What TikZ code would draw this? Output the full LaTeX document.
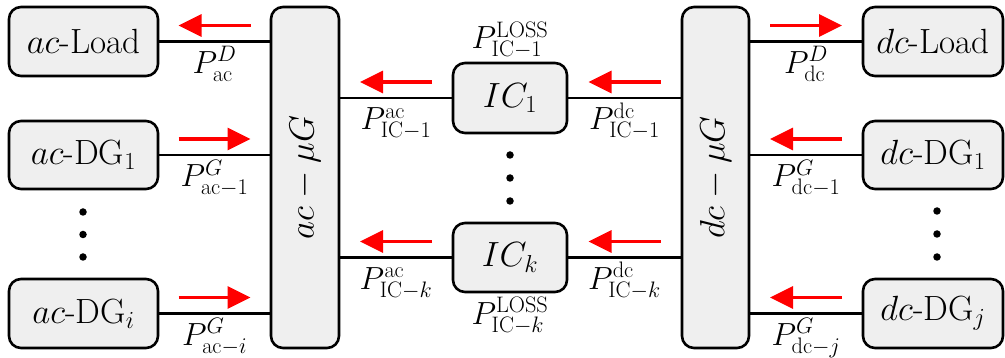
\RequirePackage{fix-cm}
\documentclass[tikz,border=0pt]{standalone}
\usetikzlibrary{arrows.meta,calc}
\definecolor{boxfill}{RGB}{239,239,239}
\definecolor{flowred}{RGB}{255,0,0}
\begin{document}
\begin{tikzpicture}[x=1pt,y=-1pt,
  blk/.style={draw=black,line width=2.6pt,fill=boxfill,rounded corners=12pt,
    inner sep=0pt,font=\fontsize{35}{42}\selectfont},
  bus/.style={blk,minimum width=68pt,minimum height=341pt},
  link/.style={line width=2.6pt},
  flow/.style={draw=flowred,line width=3.5pt,-{Triangle[length=23pt,width=22pt]}},
  lbl/.style={anchor=base,inner sep=0pt,font=\fontsize{32}{38}\selectfont},
  dotc/.style={circle,fill=black,inner sep=0pt,minimum size=7.5pt}
]
\useasboundingbox (0,0) rectangle (1005,358);

% ac side
\node[blk,minimum width=149pt,minimum height=69pt] (acload) at (83.5,41.5) {$ac$-Load};
\node[blk,minimum width=149pt,minimum height=68pt] (acdg1) at (83.5,155) {$ac$-DG$_1$};
\node[blk,minimum width=149pt,minimum height=69pt] (acdgi) at (83.5,313.5) {$ac$-DG$_i$};
\node[bus] (acmg) at (305,177.5) {};
\node[rotate=90,font=\fontsize{35}{42}\selectfont] (acmgtxt) at (acmg.center) {$ac-\mu G$};
\node[dotc] (acd1) at (83,212) {};
\node[dotc] (acd2) at (83,234.5) {};
\node[dotc] (acd3) at (83,257) {};

% interlinking converters
\node[blk,minimum width=114pt,minimum height=70pt] (ic1) at (510,98) {$IC_1$};
\node[blk,minimum width=114pt,minimum height=69pt] (ick) at (510,257.5) {$IC_k$};
\node[dotc] (icd1) at (510,155) {};
\node[dotc] (icd2) at (510,178) {};
\node[dotc] (icd3) at (510,201) {};

% dc side
\node[bus,minimum width=67pt] (dcmg) at (715.5,177.5) {};
\node[rotate=90,font=\fontsize{35}{42}\selectfont] (dcmgtxt) at (dcmg.center) {$dc-\mu G$};
\node[blk,minimum width=140pt,minimum height=69pt] (dcload) at (933,41.5) {$dc$-Load};
\node[blk,minimum width=140pt,minimum height=68pt] (dcdg1) at (933,155) {$dc$-DG$_1$};
\node[blk,minimum width=140pt,minimum height=69pt] (dcdgj) at (933,313.5) {$dc$-DG$_j$};
\node[dotc] (dcd1) at (937,211) {};
\node[dotc] (dcd2) at (937,234) {};
\node[dotc] (dcd3) at (937,257) {};

% connections (box side -> bus), flow arrows (+1 rightwards, -1 leftwards), power labels
\foreach \a/\b/\dir/\txt [count=\i] in {
  acload.east/acmg.west/-1/{$P^{D}_{\mathrm{ac}}$},
  acdg1.east/acmg.west/1/{$P^{G}_{\mathrm{ac}-1}$},
  acdgi.east/acmg.west/1/{$P^{G}_{\mathrm{ac}-i}$},
  ic1.west/acmg.east/-1/{$P^{\mathrm{ac}}_{\mathrm{IC}-1}$},
  ick.west/acmg.east/-1/{$P^{\mathrm{ac}}_{\mathrm{IC}-k}$},
  ic1.east/dcmg.west/-1/{$P^{\mathrm{dc}}_{\mathrm{IC}-1}$},
  ick.east/dcmg.west/-1/{$P^{\mathrm{dc}}_{\mathrm{IC}-k}$},
  dcload.west/dcmg.east/1/{$P^{D}_{\mathrm{dc}}$},
  dcdg1.west/dcmg.east/-1/{$P^{G}_{\mathrm{dc}-1}$},
  dcdgj.west/dcmg.east/-1/{$P^{G}_{\mathrm{dc}-j}$}}
{
  \coordinate (s\i) at (\a);
  \coordinate (e\i) at (\a -| \b);
  \draw[link] (s\i) -- (e\i);
  \coordinate (m\i) at ($(s\i)!0.5!(e\i)$);
  \draw[flow] ([xshift={-36pt*\dir},yshift=16pt]m\i) -- ([xshift={36pt*\dir},yshift=16pt]m\i);
  \node[lbl] (p\i) at ([yshift=-32pt]m\i) {\txt};
}

% converter losses
\node[lbl] (loss1) at ([yshift=13pt]ic1.north) {$P^{\mathrm{LOSS}}_{\mathrm{IC}-1}$};
\node[lbl] (lossk) at ([yshift=-31pt]ick.south) {$P^{\mathrm{LOSS}}_{\mathrm{IC}-k}$};
\end{tikzpicture}
\end{document}
